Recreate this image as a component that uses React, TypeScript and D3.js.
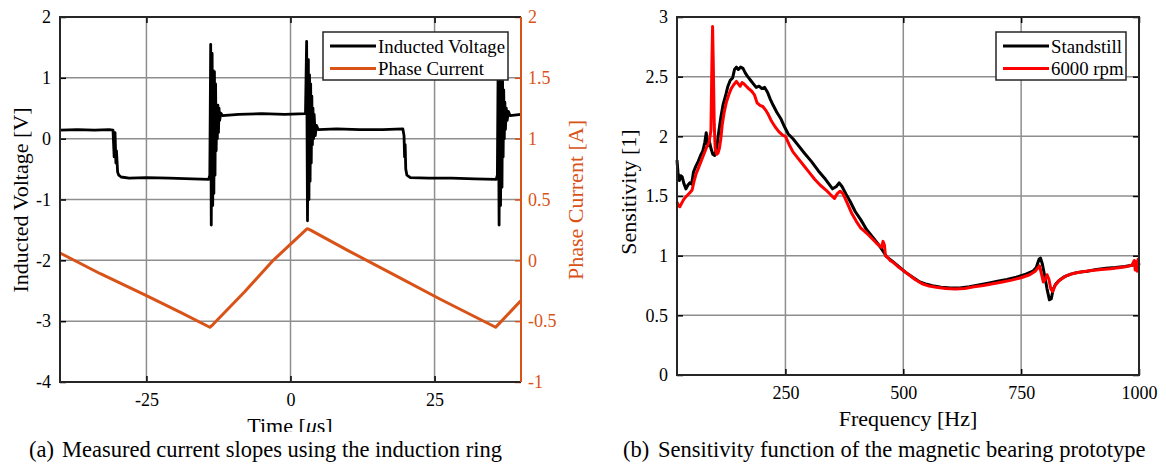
import * as d3 from "d3";
import React, { useRef, useEffect } from "react";

// ticks
const timeTicks = [-25, 0, 25];
const voltTicks = [-4, -3, -2, -1, 0, 1, 2];
const currentTicks = [-1, -0.5, 0, 0.5, 1, 1.5, 2];
const freqTicks = [250, 500, 750, 1000];
const sensTicks = [0, 0.5, 1, 1.5, 2, 2.5, 3];

// (a) time [us], voltage [V]
const inductedVoltage: [number, number][] = [
  [-40, 0.14], [-37, 0.15], [-34, 0.14], [-31.5, 0.15], [-30.8, 0.14],
  [-30.6, -0.3], [-30.45, 0.1], [-30.3, -0.4], [-30.2, -0.2], [-30.0, -0.55], [-29.8, -0.6], [-29.4, -0.63],
  [-28, -0.65], [-25, -0.64], [-21, -0.65], [-17, -0.66], [-14.2, -0.67],
  [-14.0, -0.6], [-13.85, 1.55], [-13.75, -1.42], [-13.6, 1.4], [-13.5, -1.1], [-13.4, 1.12], [-13.3, -0.9],
  [-13.2, 1.1], [-13.1, -0.6], [-13.0, 0.9], [-12.9, -0.2], [-12.8, 0.5], [-12.7, 0.0], [-12.6, 0.55],
  [-12.5, 0.1], [-12.4, 0.5], [-12.3, 0.3], [-12.1, 0.42], [-11.8, 0.38],
  [-9, 0.4], [-5, 0.41], [-1, 0.4], [2.6, 0.41],
  [2.8, 1.6], [2.95, -1.35], [3.1, 1.3], [3.2, -1.0], [3.3, 1.05], [3.4, -0.7], [3.5, 0.9], [3.6, -0.4],
  [3.7, 0.7], [3.8, -0.1], [3.9, 0.5], [4.0, 0.0], [4.1, 0.4], [4.3, 0.05], [4.5, 0.22], [4.8, 0.15],
  [8, 0.16], [12, 0.15], [16, 0.15], [19.5, 0.16],
  [19.7, 0.05], [19.8, -0.3], [19.9, -0.1], [20.0, -0.5], [20.2, -0.6], [20.8, -0.64],
  [24, -0.65], [28, -0.65], [32, -0.66], [35.7, -0.67],
  [35.9, -0.6], [36.05, 1.45], [36.2, -1.42], [36.35, 1.3], [36.45, -1.1], [36.6, 1.1], [36.7, -0.8],
  [36.8, 0.95], [36.9, -0.3], [37.0, 0.8], [37.1, 0.0], [37.2, 0.6], [37.3, 0.15], [37.45, 0.5],
  [37.6, 0.3], [37.8, 0.45], [38.1, 0.38], [40, 0.4],
];

// (a) time [us], current [A]
const phaseCurrent: [number, number][] = [
  [-40, 0.06], [-33, -0.11], [-25, -0.29], [-19, -0.43], [-14, -0.55], [-13.5, -0.53],
  [-8, -0.26], [-3, 0.0], [2.9, 0.26], [3.4, 0.25], [10, 0.08], [18, -0.12], [26, -0.32],
  [35.6, -0.55], [36.2, -0.52], [40, -0.33],
];

// (b) frequency [Hz], sensitivity [1]
const standstill: [number, number][] = [
  [20, 1.80], [22, 1.70], [25, 1.63], [28, 1.67], [31, 1.66], [35, 1.60], [39, 1.56], [43, 1.59],
  [47, 1.61], [51, 1.60], [55, 1.70], [60, 1.75], [65, 1.79], [70, 1.84], [75, 1.88], [79, 1.95],
  [82, 2.03], [85, 1.92], [88, 1.97], [92, 1.90], [96, 1.85], [100, 1.84], [104, 1.90], [108, 2.02],
  [113, 2.16], [118, 2.27], [123, 2.34], [128, 2.42], [133, 2.47], [138, 2.49], [142, 2.56], [146, 2.58],
  [150, 2.56], [155, 2.58], [160, 2.57], [165, 2.53], [170, 2.50], [176, 2.47], [182, 2.44], [188, 2.41],
  [194, 2.42], [200, 2.40], [206, 2.41], [212, 2.37], [218, 2.31], [224, 2.26], [232, 2.20], [240, 2.15],
  [248, 2.08], [256, 2.02], [266, 1.98], [276, 1.93], [290, 1.86], [305, 1.79], [320, 1.71], [335, 1.64],
  [350, 1.56], [358, 1.58], [364, 1.61], [370, 1.58], [378, 1.52], [388, 1.45], [398, 1.37], [410, 1.30],
  [422, 1.22], [436, 1.15], [446, 1.10], [455, 1.05], [465, 0.99], [478, 0.95], [490, 0.91], [505, 0.86],
  [520, 0.82], [535, 0.78], [550, 0.76], [565, 0.745], [580, 0.735], [600, 0.73], [620, 0.73], [640, 0.74],
  [660, 0.755], [680, 0.77], [700, 0.785], [720, 0.80], [740, 0.82], [760, 0.845], [775, 0.87], [782, 0.90],
  [788, 0.97], [791, 0.98], [795, 0.93], [800, 0.83], [805, 0.72], [810, 0.63], [814, 0.64], [818, 0.72],
  [823, 0.76], [830, 0.79], [840, 0.82], [855, 0.845], [870, 0.86], [890, 0.87], [910, 0.885], [930, 0.895],
  [950, 0.90], [970, 0.91], [985, 0.92], [1000, 0.93],
];

const rpm6000: [number, number][] = [
  [20, 1.45], [23, 1.42], [26, 1.41], [30, 1.44], [34, 1.47], [38, 1.49], [43, 1.51], [48, 1.53],
  [52, 1.55], [56, 1.62], [60, 1.68], [66, 1.74], [72, 1.80], [78, 1.86], [83, 1.91], [88, 1.95],
  [92, 2.05], [94, 2.60], [95.5, 2.92], [97, 2.60], [99, 2.10], [101, 1.90], [104, 1.85], [107, 1.86],
  [110, 1.90], [113, 1.98], [116, 2.10], [120, 2.20], [125, 2.29], [130, 2.35], [135, 2.40], [140, 2.43],
  [146, 2.46], [150, 2.44], [154, 2.42], [158, 2.45], [162, 2.44], [167, 2.42], [172, 2.40], [178, 2.38],
  [184, 2.35], [190, 2.28], [196, 2.26], [202, 2.25], [208, 2.22], [214, 2.18], [220, 2.13], [228, 2.08],
  [236, 2.04], [244, 2.01], [250, 2.00], [258, 1.93], [266, 1.87], [276, 1.82], [288, 1.76], [300, 1.70],
  [312, 1.64], [324, 1.59], [336, 1.55], [346, 1.51], [354, 1.48], [360, 1.52], [366, 1.54], [372, 1.52],
  [380, 1.45], [390, 1.36], [400, 1.29], [410, 1.23], [422, 1.19], [432, 1.15], [442, 1.11], [450, 1.08],
  [454, 1.07], [457, 1.12], [460, 1.09], [462, 1.00], [466, 0.99], [472, 0.96], [480, 0.94], [490, 0.905],
  [500, 0.875], [512, 0.84], [525, 0.80], [540, 0.765], [555, 0.745], [570, 0.735], [590, 0.725], [610, 0.72],
  [630, 0.725], [650, 0.74], [670, 0.75], [690, 0.765], [710, 0.78], [730, 0.795], [750, 0.815], [768, 0.84],
  [780, 0.87], [786, 0.90], [789, 0.915], [793, 0.85], [797, 0.78], [801, 0.80], [805, 0.84], [809, 0.80],
  [813, 0.72], [817, 0.70], [822, 0.75], [830, 0.79], [845, 0.83], [860, 0.85], [880, 0.865], [900, 0.875],
  [920, 0.885], [940, 0.89], [960, 0.90], [975, 0.91], [985, 0.92], [990, 0.96], [992, 0.88], [994, 0.95],
  [996, 0.87], [998, 0.97], [1000, 0.92],
];

const FONT = "'Liberation Serif', 'Times New Roman', serif";
const ORANGE = "#D95319";
const GRID = "#8e8e8e";
const AXIS = "#262626";

function App() {
  const ref = useRef<SVGSVGElement>(null);

  useEffect(() => {
    const svg = d3.select(ref.current);
    svg.selectAll("*").remove();

    const fmt = (d: any) => String(d);

    const styleAxis = (g: any, color: string) => {
      g.attr("font-family", FONT).attr("font-size", 18);
      g.select(".domain").remove();
      g.selectAll(".tick line").attr("stroke", color).attr("stroke-width", 1.5);
      g.selectAll(".tick text").attr("fill", color);
    };

    const grid = (g: any, x: any, y: any, xs: number[], ys: number[]) => {
      const [x0, x1] = x.range();
      const [y0, y1] = y.range();
      g.selectAll(".gx").data(xs).enter().append("line")
        .attr("x1", (d: number) => x(d)).attr("x2", (d: number) => x(d))
        .attr("y1", y0).attr("y2", y1)
        .attr("stroke", GRID).attr("stroke-width", 1.5);
      g.selectAll(".gy").data(ys).enter().append("line")
        .attr("x1", x0).attr("x2", x1)
        .attr("y1", (d: number) => y(d)).attr("y2", (d: number) => y(d))
        .attr("stroke", GRID).attr("stroke-width", 1.5);
    };

    const legend = (g: any, x: number, y: number, w: number, items: [string, string][]) => {
      g.append("rect")
        .attr("x", x).attr("y", y).attr("width", w).attr("height", 48)
        .attr("fill", "white").attr("stroke", AXIS).attr("stroke-width", 1.5);
      items.forEach(([label, color], i) => {
        const cy = y + 14 + i * 22.5;
        g.append("line")
          .attr("x1", x + 7).attr("x2", x + 53)
          .attr("y1", cy).attr("y2", cy)
          .attr("stroke", color).attr("stroke-width", 3);
        g.append("text")
          .attr("x", x + 55).attr("y", cy + 6.5)
          .attr("font-family", FONT).attr("font-size", 18.8)
          .attr("fill", "#000")
          .text(label);
      });
    };

    const label = (g: any, x: number, y: number, rot: boolean, text: string, color = "#000") => {
      return g.append("text")
        .attr("transform", rot ? `translate(${x},${y}) rotate(-90)` : `translate(${x},${y})`)
        .attr("text-anchor", "middle")
        .attr("font-family", FONT).attr("font-size", 22)
        .attr("fill", color)
        .text(text);
    };

    // ---------------- (a) ----------------
    const xA = d3.scaleLinear().domain([-40, 40]).range([60, 521]);
    const yA = d3.scaleLinear().domain([-4, 2]).range([382, 17]);
    const yA2 = d3.scaleLinear().domain([-1, 2]).range([382, 17]);

    const a = svg.append("g");
    grid(a, xA, yA, timeTicks, voltTicks.slice(1, -1));

    const lineA = d3.line<[number, number]>().x(d => xA(d[0])).y(d => yA(d[1]));
    const lineA2 = d3.line<[number, number]>().x(d => xA(d[0])).y(d => yA2(d[1]));

    a.append("path").datum(inductedVoltage)
      .attr("d", lineA).attr("fill", "none")
      .attr("stroke", "#000").attr("stroke-width", 2.8).attr("stroke-linejoin", "round");
    a.append("path").datum(phaseCurrent)
      .attr("d", lineA2).attr("fill", "none")
      .attr("stroke", ORANGE).attr("stroke-width", 3).attr("stroke-linejoin", "round");

    a.append("g").attr("transform", "translate(60,0)")
      .call(d3.axisLeft(yA).tickValues(voltTicks).tickSize(-6).tickPadding(9).tickFormat(fmt))
      .call(styleAxis, "#000");
    a.append("g").attr("transform", "translate(0,382)")
      .call(d3.axisBottom(xA).tickValues(timeTicks).tickSize(-6).tickPadding(11).tickFormat(fmt))
      .call(styleAxis, "#000");
    a.append("g").attr("transform", "translate(0,17)")
      .call(d3.axisTop(xA).tickValues(timeTicks).tickSize(-6).tickFormat(() => ""))
      .call(styleAxis, "#000");
    a.append("g").attr("transform", "translate(521,0)")
      .call(d3.axisRight(yA2).tickValues(currentTicks).tickSize(-6).tickPadding(7).tickFormat(fmt))
      .call(styleAxis, ORANGE);

    a.append("path")
      .attr("d", "M521,17H60V382H521")
      .attr("fill", "none").attr("stroke", AXIS).attr("stroke-width", 2);
    a.append("line")
      .attr("x1", 521).attr("x2", 521).attr("y1", 17).attr("y2", 382)
      .attr("stroke", ORANGE).attr("stroke-width", 2);

    legend(a, 323, 32, 185, [["Inducted Voltage", "#000"], ["Phase Current", ORANGE]]);

    label(a, 28, 200, true, "Inducted Voltage [V]");
    label(a, 583, 200, true, "Phase Current [A]", ORANGE);

    svg.append("clipPath").attr("id", "clipTime")
      .append("rect").attr("x", 0).attr("y", 0).attr("width", 600).attr("height", 432);
    const tl = a.append("text")
      .attr("clip-path", "url(#clipTime)")
      .attr("x", 290).attr("y", 433)
      .attr("text-anchor", "middle")
      .attr("font-family", FONT).attr("font-size", 22);
    tl.append("tspan").text("Time [");
    tl.append("tspan").attr("font-style", "italic").text("\u03bc");
    tl.append("tspan").text("s]");

    // ---------------- (b) ----------------
    const xB = d3.scaleLinear().domain([20, 1000]).range([677, 1139]);
    const yB = d3.scaleLinear().domain([0, 3]).range([375, 17]);

    const b = svg.append("g");
    grid(b, xB, yB, freqTicks.slice(0, -1), sensTicks.slice(1, -1));

    const lineB = d3.line<[number, number]>().x(d => xB(d[0])).y(d => yB(d[1]));
    b.append("path").datum(standstill)
      .attr("d", lineB).attr("fill", "none")
      .attr("stroke", "#000").attr("stroke-width", 3).attr("stroke-linejoin", "round");
    b.append("path").datum(rpm6000)
      .attr("d", lineB).attr("fill", "none")
      .attr("stroke", "#ff0000").attr("stroke-width", 3).attr("stroke-linejoin", "round");

    b.append("g").attr("transform", "translate(677,0)")
      .call(d3.axisLeft(yB).tickValues(sensTicks).tickSize(-6).tickPadding(9).tickFormat(fmt))
      .call(styleAxis, "#000");
    b.append("g").attr("transform", "translate(1139,0)")
      .call(d3.axisRight(yB).tickValues(sensTicks).tickSize(-6).tickFormat(() => ""))
      .call(styleAxis, "#000");
    b.append("g").attr("transform", "translate(0,375)")
      .call(d3.axisBottom(xB).tickValues(freqTicks).tickSize(-6).tickPadding(11).tickFormat(fmt))
      .call(styleAxis, "#000");
    b.append("g").attr("transform", "translate(0,17)")
      .call(d3.axisTop(xB).tickValues(freqTicks).tickSize(-6).tickFormat(() => ""))
      .call(styleAxis, "#000");

    b.append("rect")
      .attr("x", 677).attr("y", 17).attr("width", 462).attr("height", 358)
      .attr("fill", "none").attr("stroke", AXIS).attr("stroke-width", 2);

    legend(b, 996, 32, 130, [["Standstill", "#000"], ["6000 rpm", "#ff0000"]]);

    label(b, 636, 192, true, "Sensitivity [1]");
    label(b, 908, 426, false, "Frequency [Hz]");

    // captions
    const cap = (x1: number, x2: number, tag: string, text: string) => {
      svg.append("text").attr("x", x1).attr("y", 457)
        .attr("font-family", FONT).attr("font-size", 22.5).text(tag);
      svg.append("text").attr("x", x2).attr("y", 457)
        .attr("font-family", FONT).attr("font-size", 22.5).text(text);
    };
    cap(29, 62, "(a)", "Measured current slopes using the induction ring");
    cap(623, 658, "(b)", "Sensitivity function of the magnetic bearing prototype");
  }, []);

  return (
    <svg
      ref={ref}
      width={1166}
      height={465}
      style={{ position: "absolute", left: 0, top: 0, background: "white" }}
    />
  );
}

export default App;
